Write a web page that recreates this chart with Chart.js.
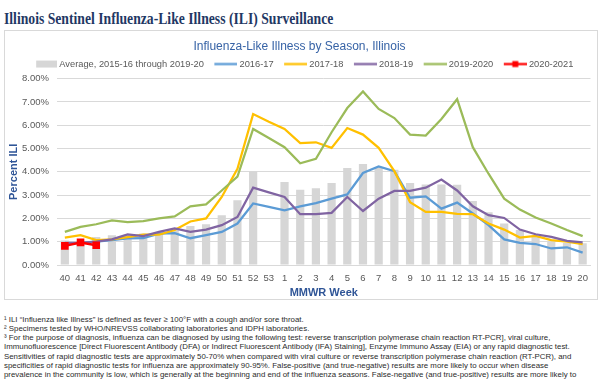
<!DOCTYPE html>
<html>
<head>
<meta charset="utf-8">
<script src="https://cdn.jsdelivr.net/npm/chart.js@4.4.0/dist/chart.umd.min.js"></script>
<style>
  html, body { margin: 0; padding: 0; background: #fff; }
  body { width: 600px; height: 380px; position: relative; overflow: hidden; }
  #pageTitle {
    position: absolute; left: 4px; top: 11px; white-space: nowrap;
    font-family: "Liberation Serif", serif; font-weight: bold; font-size: 16px;
    line-height: 16px; color: #1F3864; transform-origin: left center;
  }
  #chartBox {
    position: absolute; left: 4px; top: 30px; width: 594px; height: 270px;
    border: 1px solid #D9D9D9; box-sizing: border-box;
  }
  #notes {
    position: absolute; left: 4px; top: 315px; color: #2b2b2b;
    font-family: "Liberation Sans", Arial, sans-serif; font-size: 7.5px; line-height: 9.15px;
  }
  #notes div { white-space: nowrap; }
</style>
</head>
<body>
<div id="pageTitle">Illinois Sentinel Influenza-Like Illness (ILI) Surveillance</div>
<div id="chartBox"><canvas id="myChart" width="592" height="268"></canvas></div>
<div id="notes">
  <div>¹ ILI “Influenza like Illness” is defined as fever ≥ 100°F with a cough and/or sore throat.</div>
  <div>² Specimens tested by WHO/NREVSS collaborating laboratories and IDPH laboratories.</div>
  <div>³ For the purpose of diagnosis, influenza can be diagnosed by using the following test: reverse transcription polymerase chain reaction RT-PCR], viral culture,</div>
  <div>Immunofluorescence [Direct Fluorescent Antibody (DFA) or Indirect Fluorescent Antibody (IFA) Staining], Enzyme Immuno Assay (EIA) or any rapid diagnostic test.</div>
  <div id="widestNote">Sensitivities of rapid diagnostic tests are approximately 50-70% when compared with viral culture or reverse transcription polymerase chain reaction (RT-PCR), and</div>
  <div>specificities of rapid diagnostic tests for influenza are approximately 90-95%. False-positive (and true-negative) results are more likely to occur when disease</div>
  <div>prevalence in the community is low, which is generally at the beginning and end of the influenza seasons. False-negative (and true-positive) results are more likely to</div>
</div>
<script>
const weeks = ['40','41','42','43','44','45','46','47','48','49','50','51','52','53',
  '1','2','3','4','5','6','7','8','9','10','11','12','13','14','15','16','17','18','19','20'];

const avgLabel = 'Average, 2015-16 through 2019-20';
const avg = [1.05, 1.02, 1.2, 1.28, 1.3, 1.35, 1.4, 1.5, 1.67, 1.75, 2.14, 2.78, 4.03, null,
  3.56, 3.23, 3.3, 3.52, 4.17, 4.34, 4.2, 4.09, 3.52, 3.46, 3.46, 3.45, 2.75, 2.26, 1.78, 1.5, 1.21, 1.0, 0.95, 0.93];

const season1617 = [0.9, 0.95, 1.0, 1.07, 1.14, 1.15, 1.35, 1.37, 1.15, 1.28, 1.42, 1.78, 2.64, 2.5,
  2.35, 2.52, 2.66, 2.85, 3.03, 3.95, 4.23, 4.03, 2.89, 2.95, 2.42, 2.68, 2.21, 1.71, 1.1, 0.95, 0.9, 0.71, 0.76, 0.53];
const season1718 = [1.18, 1.28, 1.07, 1.1, 1.2, 1.3, 1.3, 1.5, 1.87, 2.0, 2.92, 4.13, 6.48, 6.15,
  5.84, 5.23, 5.27, 5.03, 5.88, 5.6, 5.03, 4.03, 2.7, 2.28, 2.28, 2.2, 2.18, 1.78, 1.52, 1.18, 1.25, 1.07, 1.0, 0.9];
const season1819 = [0.95, 0.95, 1.0, 1.1, 1.31, 1.24, 1.42, 1.57, 1.42, 1.52, 1.71, 2.06, 3.32, 3.12,
  2.92, 2.18, 2.18, 2.24, 2.92, 2.32, 2.85, 3.18, 3.18, 3.32, 3.67, 3.2, 2.52, 2.14, 2.02, 1.52, 1.32, 1.21, 1.04, 0.97];
const season1920 = [1.42, 1.64, 1.75, 1.92, 1.84, 1.88, 2.0, 2.09, 2.52, 2.6, 3.2, 3.8, 5.84, 5.45,
  5.06, 4.37, 4.56, 5.7, 6.74, 7.45, 6.7, 6.31, 5.6, 5.56, 6.27, 7.12, 5.06, 3.92, 2.85, 2.38, 2.04, 1.78, 1.5, 1.24];
const season2021 = [0.82, 0.97, 0.85];

const seasonLabels = ['2016-17', '2017-18', '2018-19', '2019-2020', '2020-2021'];
const seasonColors = ['#5B9BD5', '#FFC000', '#8064A2', '#9BBB59', '#FF0000'];

const tickColor = '#595959';
const titleBlue = '#2F5597';
const fontName = '"Liberation Sans", Arial, sans-serif';

// legend swatch drawn into a small canvas so the line sits right next to the text
function makeSwatch(kind, color) {
    const c = document.createElement('canvas');
    c.width = 34;
    c.height = 9;
    const ctx = c.getContext('2d');
    if (kind === 'box') {
        ctx.fillStyle = color;
        ctx.fillRect(34 - 21, 1, 21, 7);
    } else {
        ctx.strokeStyle = color;
        ctx.lineWidth = 2.25;
        ctx.beginPath();
        ctx.moveTo(34 - 23, 4.5);
        ctx.lineTo(34, 4.5);
        ctx.stroke();
        if (kind === 'marker') {
            ctx.fillStyle = color;
            ctx.fillRect(34 - 11.5 - 3, 1.5, 6, 6);
        }
    }
    return c;
}

function lineSet(label, data, color, order) {
    return {
        type: 'line',
        label: label,
        data: data,
        borderColor: color,
        backgroundColor: color,
        borderWidth: 2.25,
        tension: 0,
        pointRadius: 0,
        fill: false,
        order: order
    };
}

const redSet = lineSet(seasonLabels[4], season2021, seasonColors[4], 1);
redSet.pointStyle = 'rect';
redSet.pointRadius = 3.6;
redSet.borderWidth = 2.5;

const datasets = [
    {
        type: 'bar',
        label: avgLabel,
        data: avg,
        backgroundColor: '#D6D6D6',
        barPercentage: 0.55,
        categoryPercentage: 0.95,
        order: 10
    },
    lineSet(seasonLabels[0], season1617, seasonColors[0], 5),
    lineSet(seasonLabels[1], season1718, seasonColors[1], 4),
    lineSet(seasonLabels[2], season1819, seasonColors[2], 3),
    lineSet(seasonLabels[3], season1920, seasonColors[3], 2),
    redSet
];

const swatches = [
    makeSwatch('box', '#D6D6D6'),
    makeSwatch('line', seasonColors[0]),
    makeSwatch('line', seasonColors[1]),
    makeSwatch('line', seasonColors[2]),
    makeSwatch('line', seasonColors[3]),
    makeSwatch('marker', seasonColors[4])
];

function fitTexts() {
    const title = document.getElementById('pageTitle');
    title.style.transform = 'scaleX(' + (329 / title.offsetWidth) + ')';

    const notes = document.getElementById('notes');
    const widest = document.getElementById('widestNote');
    const size = 7.5 * 573 / widest.offsetWidth;
    notes.style.fontSize = size.toFixed(2) + 'px';
}

function initChart() {
    const chartElement = document.getElementById('myChart');
    new Chart(chartElement, {
        data: { labels: weeks, datasets: datasets },
        options: {
            responsive: false,
            animation: false,
            layout: { padding: { left: 0, right: 3, top: 0, bottom: 0 } },
            plugins: {
                title: {
                    display: true,
                    text: 'Influenza-Like Illness by Season, Illinois',
                    color: '#3763A6',
                    font: { family: fontName, size: 12, weight: 'normal' },
                    padding: { top: 8.4, bottom: 3.6 }
                },
                legend: {
                    display: true,
                    labels: {
                        usePointStyle: true,
                        pointStyleWidth: 29,
                        padding: 2,
                        color: tickColor,
                        font: { family: fontName, size: 9.3 },
                        sort: (a, b) => a.datasetIndex - b.datasetIndex,
                        generateLabels: (chart) => {
                            const items = Chart.defaults.plugins.legend.labels.generateLabels(chart);
                            items.forEach(item => {
                                item.pointStyle = swatches[item.datasetIndex];
                            });
                            return items;
                        }
                    }
                },
                tooltip: { enabled: false }
            },
            scales: {
                x: {
                    grid: { display: false, drawTicks: false },
                    border: { display: true, color: '#D9D9D9' },
                    ticks: { color: tickColor, font: { family: fontName, size: 9.5 }, padding: 8, maxRotation: 0, autoSkip: false },
                    title: {
                        display: true,
                        text: 'MMWR Week',
                        color: titleBlue,
                        font: { family: fontName, size: 11, weight: 'bold' },
                        padding: { top: 0, bottom: -0.6 }
                    },
                    afterFit: (scale) => { scale.height = 34; }
                },
                y: {
                    min: 0,
                    max: 8,
                    grid: { color: '#D9D9D9', drawTicks: false },
                    border: { display: false },
                    ticks: {
                        stepSize: 1,
                        color: tickColor,
                        font: { family: fontName, size: 9.5 },
                        padding: 8,
                        callback: (v) => v.toFixed(2) + '%'
                    },
                    title: {
                        display: true,
                        text: 'Percent ILI',
                        color: titleBlue,
                        font: { family: fontName, size: 11, weight: 'bold' },
                        padding: { top: 2.4, bottom: 0 }
                    },
                    afterFit: (scale) => { scale.width = 52; }
                }
            }
        }
    });
}

fitTexts();
initChart();
</script>
</body>
</html>
